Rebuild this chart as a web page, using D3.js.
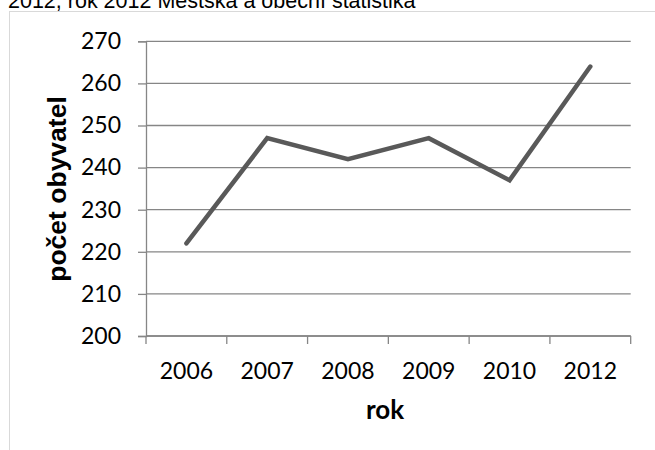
<!DOCTYPE html>
<html>
<head>
<meta charset="utf-8">
<script src="https://cdn.jsdelivr.net/npm/d3@7"></script>
<style>
  html, body { margin: 0; padding: 0; background: #fff; }
  svg { display: block; }
</style>
</head>
<body>
<svg id="chart" width="655" height="450"></svg>
<script>
// Population of the municipality by year
const years = ["2006", "2007", "2008", "2009", "2010", "2012"];
const population = [222, 247, 242, 247, 237, 264];
const yTicks = [200, 210, 220, 230, 240, 250, 260, 270];

const titleText = "2012, rok 2012 Městská a obecní statistika";
const xTitle = "rok";
const yTitle = "počet obyvatel";

const svg = d3.select("#chart");
const W = 655, H = 450;
const plot = { left: 146, right: 630.7, top: 41.3, bottom: 336 };

const x = d3.scaleBand().domain(years).range([plot.left, plot.right]);
const y = d3.scaleLinear().domain([200, 270]).range([plot.bottom, plot.top]);

const axisGrey = "#868686";
const tickFont = "Lato, 'Open Sans', sans-serif";

// Source caption (clipped at the top edge)
svg.append("text")
  .attr("x", 8).attr("y", 7.5)
  .attr("font-family", "'Liberation Sans', Arial, sans-serif")
  .attr("font-size", 21.5)
  .attr("fill", "#000")
  .text(titleText);

// Chart frame
svg.append("rect")
  .attr("x", 9.5).attr("y", 11.5)
  .attr("width", W + 20).attr("height", H + 20)
  .attr("fill", "none")
  .attr("stroke", "#d9d9d9")
  .attr("stroke-width", 1);

// Horizontal gridlines
svg.append("g")
  .selectAll("line")
  .data(yTicks)
  .join("line")
  .attr("x1", plot.left).attr("x2", plot.right)
  .attr("y1", d => y(d)).attr("y2", d => y(d))
  .attr("stroke", axisGrey)
  .attr("stroke-width", 1.3);

// Y axis
const yAxis = svg.append("g")
  .attr("transform", `translate(${plot.left},0)`)
  .call(d3.axisLeft(y).tickValues(yTicks).tickSize(8).tickPadding(17).tickFormat(d3.format("d")));
yAxis.select(".domain").attr("stroke", axisGrey).attr("stroke-width", 1.3);
yAxis.selectAll(".tick line").attr("stroke", axisGrey).attr("stroke-width", 1.3);
yAxis.selectAll(".tick text")
  .attr("font-family", tickFont).attr("font-size", 23).attr("fill", "#000");

// X axis: baseline plus ticks at band boundaries
const xAxis = svg.append("g");
xAxis.append("line")
  .attr("x1", plot.left).attr("x2", plot.right)
  .attr("y1", plot.bottom).attr("y2", plot.bottom)
  .attr("stroke", axisGrey).attr("stroke-width", 1.3);
const bounds = years.map(d => x(d)).concat([x(years[years.length - 1]) + x.bandwidth()]);
xAxis.selectAll("line.xt")
  .data(bounds)
  .join("line")
  .attr("class", "xt")
  .attr("x1", d => d).attr("x2", d => d)
  .attr("y1", plot.bottom).attr("y2", plot.bottom + 8)
  .attr("stroke", axisGrey).attr("stroke-width", 1.3);
xAxis.selectAll("text")
  .data(years)
  .join("text")
  .attr("x", d => x(d) + x.bandwidth() / 2)
  .attr("y", 378.5)
  .attr("text-anchor", "middle")
  .attr("font-family", tickFont).attr("font-size", 23).attr("fill", "#000")
  .text(d => d);

// Axis titles
svg.append("text")
  .attr("x", 385).attr("y", 419)
  .attr("text-anchor", "middle")
  .attr("font-family", tickFont).attr("font-weight", "bold")
  .attr("font-size", 26).attr("fill", "#000")
  .text(xTitle);

svg.append("text")
  .attr("transform", "translate(66,189) rotate(-90)")
  .attr("text-anchor", "middle")
  .attr("font-family", "'Liberation Sans', Arial, sans-serif").attr("font-weight", "bold")
  .attr("font-size", 26.5).attr("fill", "#000")
  .text(yTitle);

// Population line
const line = d3.line()
  .x((d, i) => x(years[i]) + x.bandwidth() / 2)
  .y(d => y(d));

svg.append("path")
  .datum(population)
  .attr("d", line)
  .attr("fill", "none")
  .attr("stroke", "#595959")
  .attr("stroke-width", 4.5)
  .attr("stroke-linecap", "round")
  .attr("stroke-linejoin", "miter");
</script>
</body>
</html>
